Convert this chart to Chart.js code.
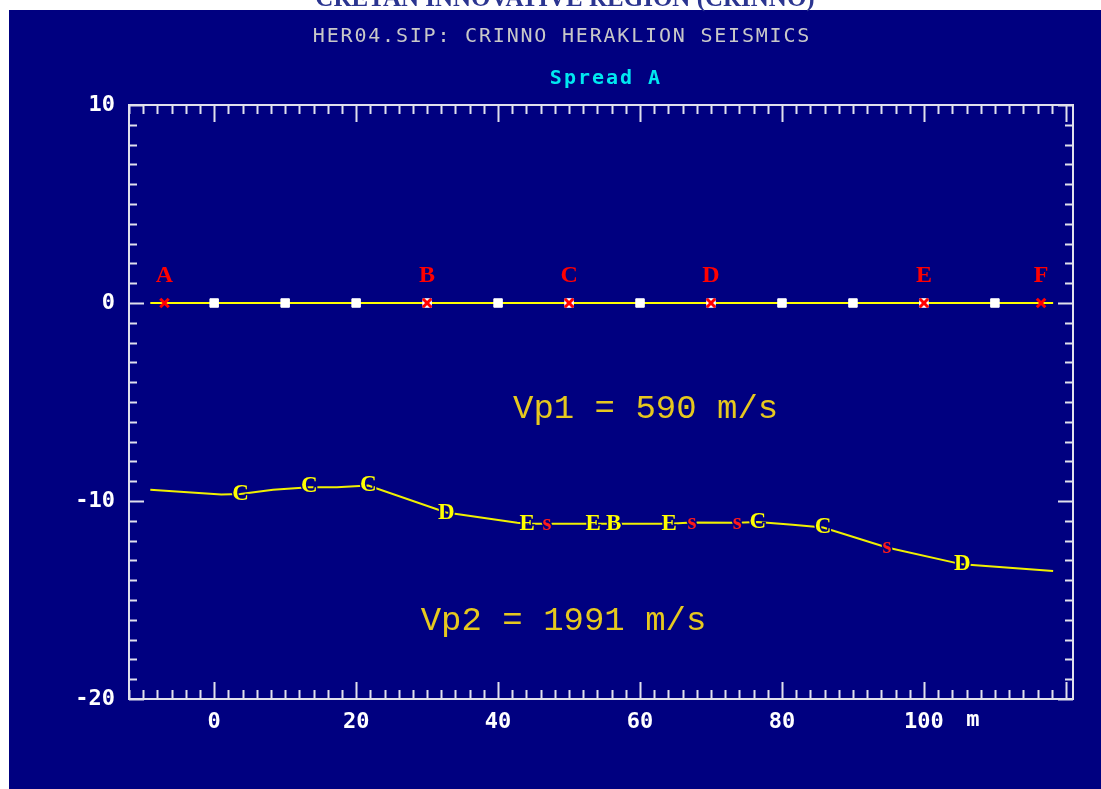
<!DOCTYPE html>
<html>
<head>
<meta charset="utf-8">
<title>HER04.SIP: CRINNO HERAKLION SEISMICS</title>
<script src="https://cdn.jsdelivr.net/npm/chart.js@4.4.1/dist/chart.umd.min.js"></script>
<style>
  html, body { margin: 0; padding: 0; background: #fff; overflow: hidden; }
  canvas { display: block; }
</style>
</head>
<body>
<canvas id="myChart" width="1101" height="789"></canvas>
<script>
const geophoneX = [0, 10, 20, 30, 40, 50, 60, 70, 80, 90, 100, 110];
const shotX = [-7, 30, 50, 70, 100, 116.5];
const shotNames = ["A", "B", "C", "D", "E", "F"];
const surfaceX = [-9, 118.2];
const surfaceY = [0, 0];
const refractorX = [-9, 1, 3.7, 8.3, 13.4, 17.3, 21.7, 32.7, 42.7, 44.1, 46.9, 53.4, 56.3, 64.1, 67.3, 73.7, 76.6, 81.5, 85.8, 94.8, 105.4, 118.2];
const refractorY = [-9.43, -9.67, -9.65, -9.43, -9.3, -9.3, -9.22, -10.58, -11.1, -11.15, -11.15, -11.15, -11.15, -11.15, -11.08, -11.1, -11.06, -11.2, -11.34, -12.35, -13.2, -13.54];
const pickX = [3.7, 13.4, 21.7, 32.7, 44.1, 46.9, 53.4, 56.3, 64.1, 67.3, 73.7, 76.6, 85.8, 94.8, 105.4];
const pickY = [-9.65, -9.24, -9.2, -10.6, -11.15, -11.15, -11.15, -11.15, -11.15, -11.1, -11.12, -11.06, -11.34, -12.35, -13.2];
const pickNames = ["C", "C", "C", "D", "E", "s", "E", "B", "E", "s", "s", "C", "C", "s", "D"];
const velocities = [590, 1991];
const xTickLabels = [0, 20, 40, 60, 80, 100];
const yTickLabels = [10, 0, -10, -20];

const NAVY = "#000080";

function points(xs, ys) {
    return xs.map((x, i) => ({ x: x, y: ys[i] }));
}

// fond blanc + cadre bleu, et le bandeau coupé en haut
const backdrop = {
    id: "backdrop",
    beforeDraw(chart) {
        const ctx = chart.ctx;
        ctx.save();
        ctx.fillStyle = "#ffffff";
        ctx.fillRect(0, 0, chart.width, chart.height);
        ctx.fillStyle = NAVY;
        ctx.fillRect(9, 10, chart.width - 9, chart.height - 10);
        ctx.fillStyle = "#2b3590";
        ctx.font = "bold 25px 'Liberation Serif'";
        ctx.textAlign = "center";
        ctx.textBaseline = "alphabetic";
        ctx.fillText("CRETAN INNOVATIVE REGION (CRINNO)", 565, 6);

        ctx.letterSpacing = "1.8px";
        ctx.fillStyle = "#c8c8c8";
        ctx.font = "20px 'DejaVu Sans Mono'";
        ctx.textBaseline = "middle";
        ctx.fillText("HER04.SIP: CRINNO HERAKLION SEISMICS", 562, 37);
        ctx.letterSpacing = "2px";
        ctx.fillStyle = "#00e8f0";
        ctx.font = "bold 20px 'DejaVu Sans Mono'";
        ctx.fillText("Spread A", 606, 79);
        ctx.restore();
    }
};

// cadre et graduations vers l'intérieur
const frame = {
    id: "frame",
    beforeDatasetsDraw(chart) {
        const ctx = chart.ctx;
        const a = chart.chartArea;
        const xs = chart.scales.x;
        const ys = chart.scales.y;
        ctx.save();
        ctx.strokeStyle = "#e0e0ec";
        ctx.lineWidth = 2;
        ctx.strokeRect(a.left, a.top, a.right - a.left, a.bottom - a.top);
        ctx.beginPath();
        xs.ticks.forEach(t => {
            const px = Math.round(xs.getPixelForValue(t.value)) + 0.5;
            const len = t.value % 20 === 0 ? 17 : 9;
            ctx.moveTo(px, a.bottom);
            ctx.lineTo(px, a.bottom - len);
            ctx.moveTo(px, a.top);
            ctx.lineTo(px, a.top + len);
        });
        ys.ticks.forEach(t => {
            const py = Math.round(ys.getPixelForValue(t.value)) + 0.5;
            const len = t.value % 10 === 0 ? 15 : 8;
            ctx.moveTo(a.left, py);
            ctx.lineTo(a.left + len, py);
            ctx.moveTo(a.right, py);
            ctx.lineTo(a.right - len, py);
        });
        ctx.stroke();

        ctx.fillStyle = "#ffffff";
        ctx.font = "bold 22px 'DejaVu Sans Mono'";
        ctx.textAlign = "center";
        ctx.textBaseline = "middle";
        ctx.fillText("m", xs.getPixelForValue(106.9), 720);
        ctx.restore();
    }
};

// lettres des tirs et des pointés, texte des vitesses
const letters = {
    id: "letters",
    afterDatasetsDraw(chart) {
        const ctx = chart.ctx;
        const xs = chart.scales.x;
        const ys = chart.scales.y;
        ctx.save();
        ctx.textAlign = "center";
        ctx.textBaseline = "middle";

        ctx.font = "bold 24px 'Liberation Serif'";
        ctx.fillStyle = "#ff0000";
        chart.getDatasetMeta(0).data.forEach((p, i) => {
            ctx.fillText(shotNames[i], p.x, p.y - 27);
        });

        ctx.font = "bold 23px 'Liberation Serif'";
        ctx.lineWidth = 3;
        ctx.strokeStyle = NAVY;
        chart.getDatasetMeta(4).data.forEach((p, i) => {
            const name = pickNames[i];
            ctx.strokeText(name, p.x, p.y);
            ctx.fillStyle = name === "s" ? "#ff1a1a" : "#ffff00";
            ctx.fillText(name, p.x, p.y);
        });

        ctx.textAlign = "left";
        ctx.fillStyle = "#e6c81e";
        ctx.font = "34px 'Liberation Mono'";
        ctx.fillText(`Vp1 = ${velocities[0]} m/s`, xs.getPixelForValue(42.1), ys.getPixelForValue(-5.35));
        ctx.fillText(`Vp2 = ${velocities[1]} m/s`, xs.getPixelForValue(29.1), ys.getPixelForValue(-16.05));
        ctx.restore();
    }
};

const ctx = document.getElementById("myChart");

new Chart(ctx, {
    type: "scatter",
    data: {
        datasets: [
            {
                label: "Tirs",
                data: shotX.map(x => ({ x: x, y: 0 })),
                pointStyle: "crossRot",
                pointRadius: 6,
                borderColor: "#ff0000",
                borderWidth: 3,
                order: 0
            },
            {
                label: "Géophones",
                data: geophoneX.map(x => ({ x: x, y: 0 })),
                pointStyle: "rect",
                pointRadius: 6,
                backgroundColor: "#ffffff",
                borderColor: "#ffffff",
                borderWidth: 1,
                order: 1
            },
            {
                label: "Surface",
                data: points(surfaceX, surfaceY),
                showLine: true,
                borderColor: "#ffff00",
                borderWidth: 2,
                pointRadius: 0,
                order: 2
            },
            {
                label: "Réfracteur",
                data: points(refractorX, refractorY),
                showLine: true,
                borderColor: "#f0f000",
                borderWidth: 2,
                pointRadius: 0,
                order: 2
            },
            {
                label: "Pointés",
                data: points(pickX, pickY),
                pointRadius: 0,
                order: 3
            }
        ]
    },
    options: {
        responsive: false,
        animation: false,
        layout: { padding: { left: 0, top: 105, right: 28, bottom: 0 } },
        plugins: {
            legend: { display: false },
            tooltip: { enabled: false }
        },
        scales: {
            x: {
                type: "linear",
                min: -12,
                max: 121,
                grid: { display: false, drawTicks: false },
                border: { display: false },
                afterBuildTicks: axis => {
                    axis.ticks = [];
                    for (let v = -12; v <= 120; v += 2) axis.ticks.push({ value: v });
                },
                afterFit: axis => { axis.height = 90; },
                ticks: {
                    autoSkip: false,
                    maxRotation: 0,
                    padding: 10,
                    color: "#ffffff",
                    font: { family: "DejaVu Sans Mono", size: 22, weight: "bold" },
                    callback: v => xTickLabels.includes(v) ? String(v) : ""
                }
            },
            y: {
                type: "linear",
                min: -20,
                max: 10,
                grid: { display: false, drawTicks: false },
                border: { display: false },
                afterBuildTicks: axis => {
                    axis.ticks = [];
                    for (let v = -20; v <= 10; v += 1) axis.ticks.push({ value: v });
                },
                afterFit: axis => { axis.width = 129; },
                ticks: {
                    autoSkip: false,
                    padding: 14,
                    color: "#ffffff",
                    font: { family: "DejaVu Sans Mono", size: 22, weight: "bold" },
                    callback: v => yTickLabels.includes(v) ? String(v) : ""
                }
            }
        }
    },
    plugins: [backdrop, frame, letters]
});
</script>
</body>
</html>
